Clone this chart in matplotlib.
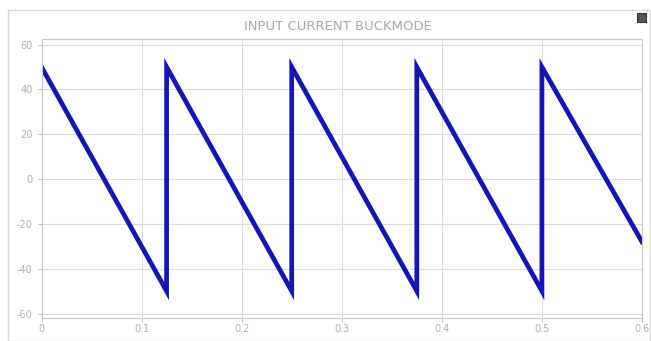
import matplotlib
matplotlib.use("Agg")
import matplotlib.pyplot as plt
from matplotlib.patches import Rectangle

# Data: sawtooth input current (time in s, current in A)
time = [0.0, 0.125, 0.125, 0.25, 0.25, 0.375, 0.375, 0.5, 0.5, 0.6]
current = [50, -50, 50, -50, 50, -50, 50, -50, 50, -28]
x_ticks = [0, 0.1, 0.2, 0.3, 0.4, 0.5, 0.6]
x_tick_labels = ["0", "0.1", "0.2", "0.3", "0.4", "0.5", "0.6"]
y_ticks = [-60, -40, -20, 0, 20, 40, 60]
y_tick_labels = ["-60", "-40", "-20", "0", "20", "40", "60"]
title = "INPUT CURRENT BUCKMODE"

fig = plt.figure(figsize=(6.51, 3.41), dpi=100, facecolor="white")

# outer frame
fig.patches.append(Rectangle((8/651, 0.0), 1 - 8/651 - 0.001, 1 - 10/341,
                             transform=fig.transFigure, fill=False,
                             edgecolor="#d8d8d8", linewidth=1.0))
# small icon top-right
fig.patches.append(Rectangle((637/651, 1 - 22/341), 9/651, 9/341,
                             transform=fig.transFigure, facecolor="#555555",
                             edgecolor="#333333", linewidth=0.8))

ax = fig.add_axes([41.5/651, 23/341, (642-41.5)/651, (318-39)/341])
ax.set_facecolor("white")
ax.plot(time, current, color="#1414b8", linewidth=3.4, solid_joinstyle="miter")

ax.set_xlim(0, 0.6)
ax.set_ylim(-62, 62.5)
ax.set_xticks(x_ticks)
ax.set_xticklabels(x_tick_labels)
ax.set_yticks(y_ticks)
ax.set_yticklabels(y_tick_labels)
ax.grid(True, color="#dcdcdc", linewidth=0.8)
ax.tick_params(colors="#b0b0b0", labelsize=7, length=3, width=0.6)
ax.tick_params(axis="x", pad=1.5)
for s in ax.spines.values():
    s.set_color("#c8c8c8")
    s.set_linewidth(0.8)

fig.text(338/651, 1 - 26/341, title, ha="center", va="center",
         fontsize=9.5, color="#a8a8a8")

fig.savefig("out.png", dpi=100, facecolor="white")
